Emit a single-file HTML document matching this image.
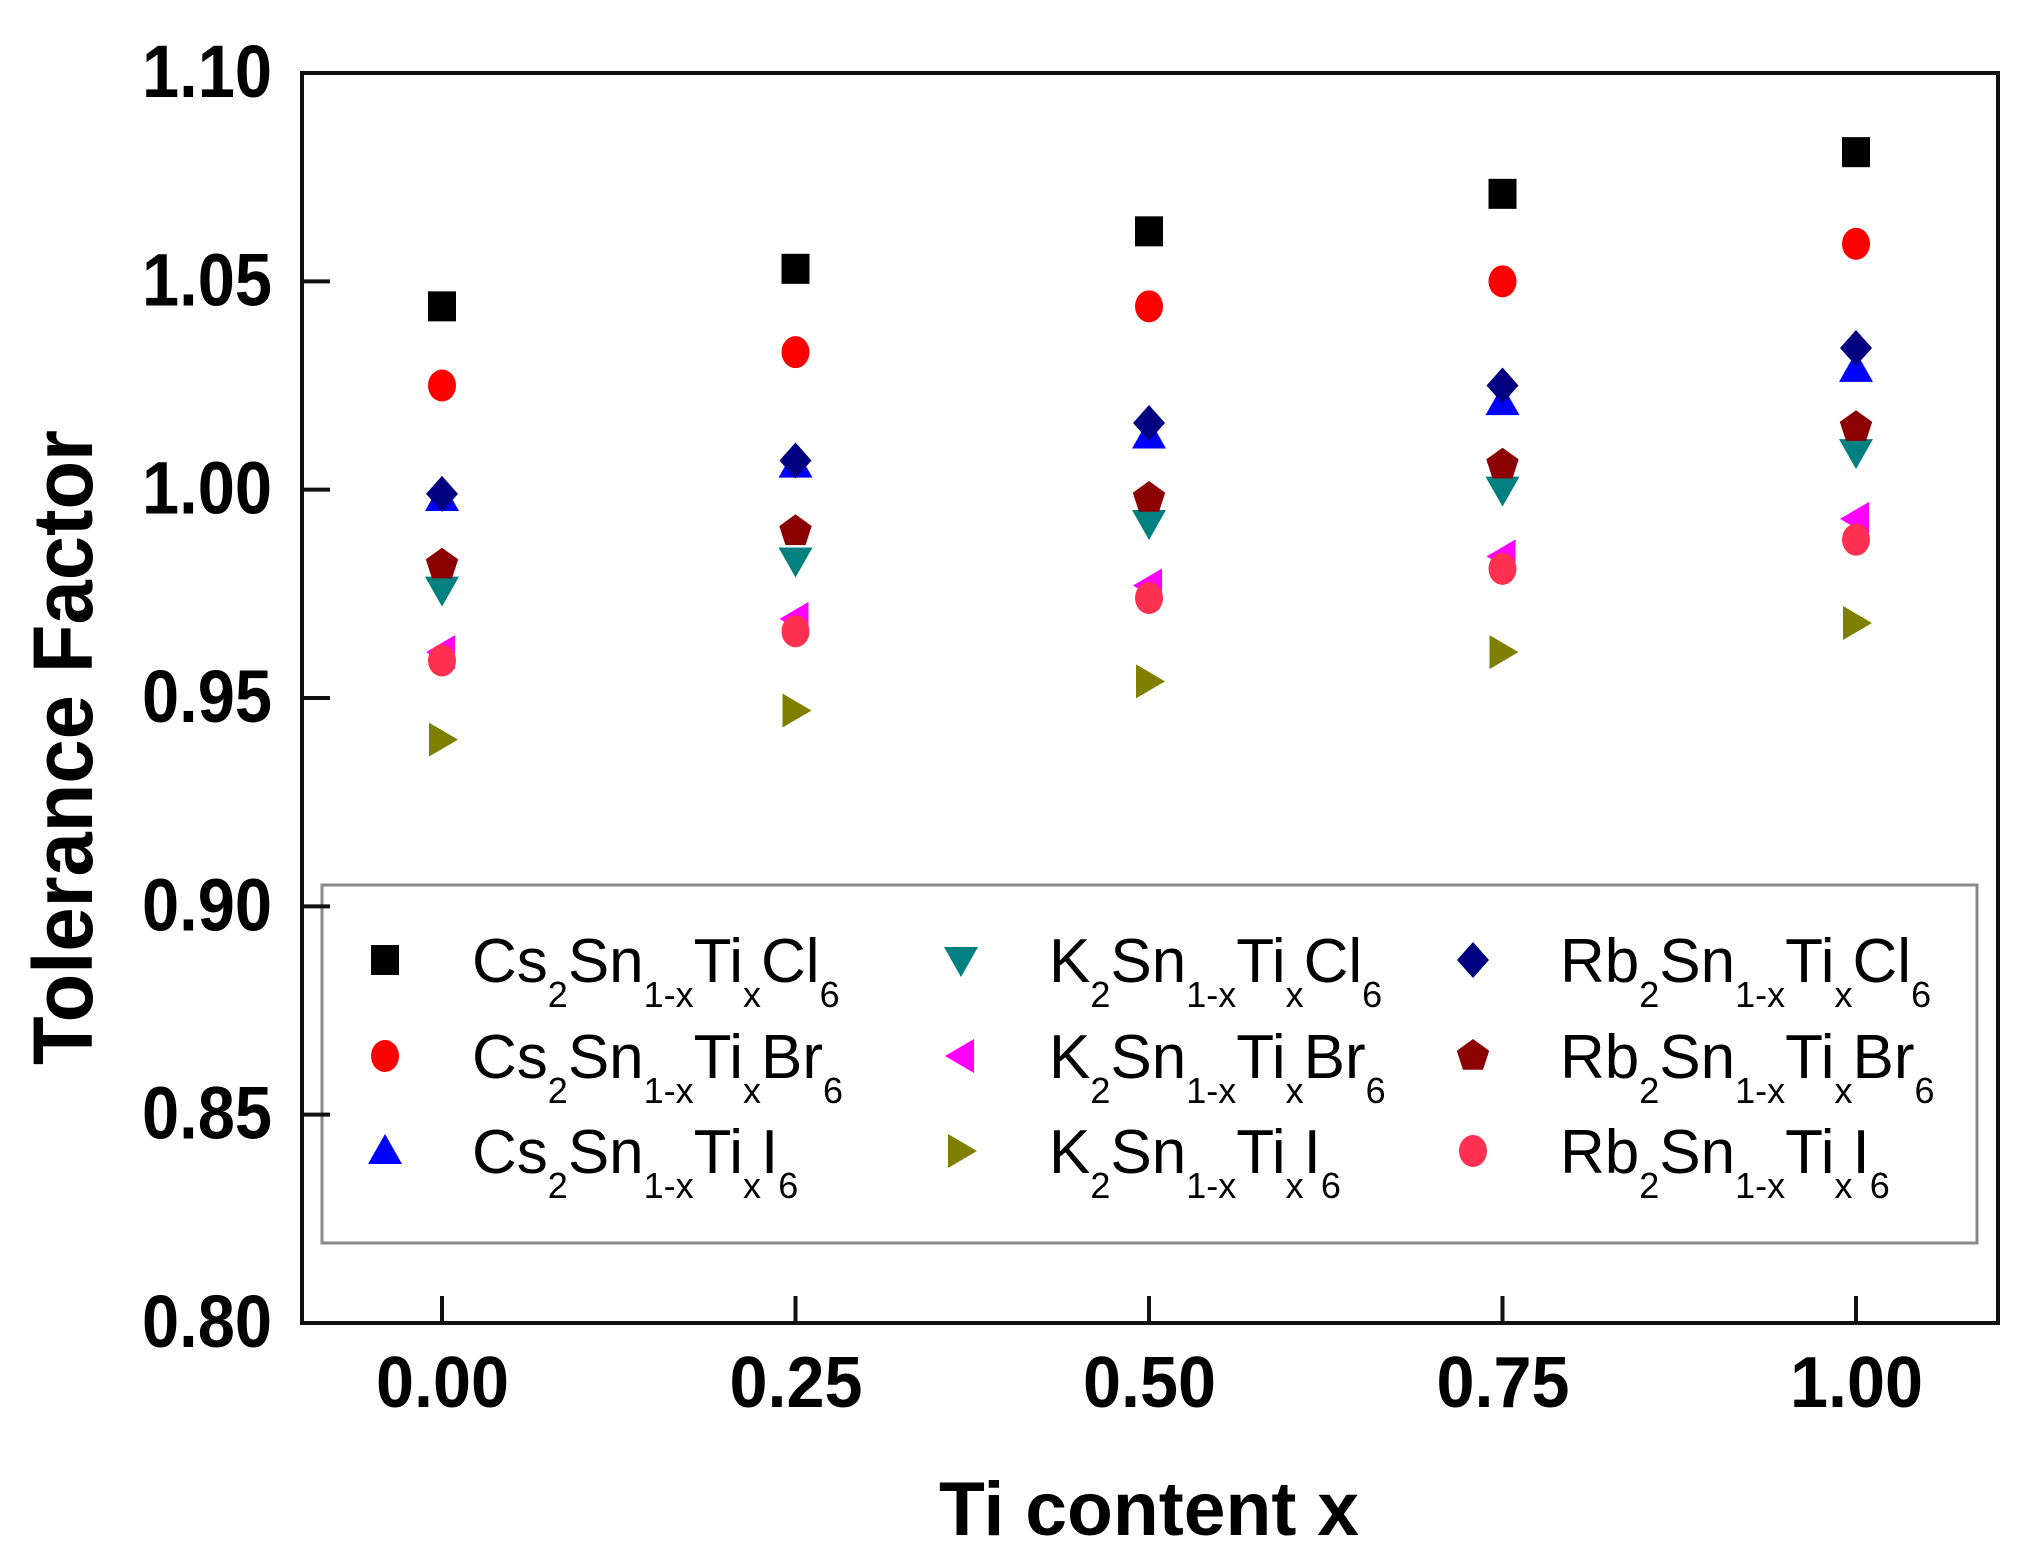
<!DOCTYPE html>
<html><head><meta charset="utf-8"><style>html,body{margin:0;padding:0;background:#fff}svg{display:block}</style></head>
<body>
<svg id="s" xmlns="http://www.w3.org/2000/svg" width="2030" height="1568" viewBox="0 0 2030 1568" font-family="Liberation Sans, Arial, sans-serif">
<rect width="2030" height="1568" fill="#fff"/>
<rect x="302" y="73" width="1696" height="1250" fill="none" stroke="#111" stroke-width="4"/>
<rect x="322" y="885" width="1655" height="358" fill="none" stroke="#888" stroke-width="3"/>
<g id="ticks" stroke="#111" stroke-width="4"></g>
<g id="ylab" font-weight="bold" font-size="74" text-anchor="end" fill="#000"></g>
<g id="xlab" font-weight="bold" font-size="72" fill="#000"></g>
<text x="0" y="0" font-weight="bold" font-size="84" transform="translate(92,1065) rotate(-90)" textLength="635" lengthAdjust="spacingAndGlyphs">Tolerance Factor</text>
<text x="939" y="1535" font-weight="bold" font-size="76" textLength="420" lengthAdjust="spacingAndGlyphs">Ti content x</text>
<g id="pts"></g>
<g id="leg" font-size="62" fill="#000"></g>
</svg>
<script>
const NS="http://www.w3.org/2000/svg";
function el(p,t,a,txt){const e=document.createElementNS(NS,t);for(const k in a)e.setAttribute(k,a[k]);if(txt!==undefined)e.textContent=txt;p.appendChild(e);return e;}
const Y=v=>73+(1.10-v)*4166.67, X=i=>442+i*353.5;
const tk=document.getElementById('ticks'),yl=document.getElementById('ylab'),xl=document.getElementById('xlab');
for(let k=0;k<=6;k++){const v=0.80+k*0.05,y=Y(v);
 el(tk,'line',{x1:302,x2:330,y1:y,y2:y});
 el(yl,'text',{x:272,y:y+24,textLength:130,lengthAdjust:'spacingAndGlyphs'},v.toFixed(2));}
for(let i=0;i<5;i++){const x=X(i);
 el(tk,'line',{x1:x,x2:x,y1:1323,y2:1296});
 el(xl,'text',{x:x-66,y:1407,textLength:133,lengthAdjust:'spacingAndGlyphs'},(i*0.25).toFixed(2));}
function mk(g,type,c,x,y){const s=15;
 switch(type){
 case 'sq':el(g,'rect',{x:x-14,y:y-15,width:28,height:30,fill:c});break;
 case 'ci':el(g,'ellipse',{cx:x,cy:y,rx:14,ry:16,fill:c});break;
 case 'up':el(g,'polygon',{points:`${x},${y-17} ${x+17},${y+13} ${x-17},${y+13}`,fill:c});break;
 case 'dn':el(g,'polygon',{points:`${x},${y+17} ${x+17},${y-13} ${x-17},${y-13}`,fill:c});break;
 case 'lt':el(g,'polygon',{points:`${x-16},${y} ${x+13},${y-17} ${x+13},${y+17}`,fill:c});break;
 case 'rt':el(g,'polygon',{points:`${x+16},${y} ${x-13},${y-17} ${x-13},${y+17}`,fill:c});break;
 case 'di':el(g,'polygon',{points:`${x},${y-18} ${x+16},${y} ${x},${y+18} ${x-16},${y}`,fill:c});break;
 case 'pe':{let p=[];for(let j=0;j<5;j++){const a=-Math.PI/2+j*2*Math.PI/5;p.push((x+17*Math.cos(a)).toFixed(1)+','+(y+17*Math.sin(a)).toFixed(1));}el(g,'polygon',{points:p.join(' '),fill:c});break;}
 }}
const S=[
 ['sq','#000',[1.044,1.053,1.062,1.071,1.081],'Cs','Cl'],
 ['ci','#ff0000',[1.025,1.033,1.044,1.050,1.059],'Cs','Br'],
 ['up','#0000ff',[0.998,1.006,1.013,1.021,1.029],'Cs','I'],
 ['dn','#008080',[0.976,0.983,0.992,1.000,1.009],'K','Cl'],
 ['lt','#ff00ff',[0.961,0.969,0.977,0.984,0.993],'K','Br'],
 ['rt','#808000',[0.940,0.947,0.954,0.961,0.968],'K','I'],
 ['di','#000080',[0.999,1.007,1.016,1.025,1.034],'Rb','Cl'],
 ['pe','#8b0000',[0.982,0.990,0.998,1.006,1.015],'Rb','Br'],
 ['ci','#ff3050',[0.959,0.966,0.974,0.981,0.988],'Rb','I']];
const pts=document.getElementById('pts'),leg=document.getElementById('leg');
const order=[2,0,1,3,4,5,6,7,8];
order.forEach(k=>{const s=S[k];s[2].forEach((v,i)=>mk(pts,s[0],s[1],X(i),Y(v)));});
const mx=[385,961,1473],tx=[472,1049,1560],base=[982,1078,1173];
S.forEach((s,k)=>{const c=Math.floor(k/3),r=k%3;
 mk(leg,s[0],s[1],mx[c],base[r]-22);
 const t=el(leg,'text',{x:tx[c],y:base[r]});
 const parts=[[s[3],0],['2',1],['Sn',0],['1-x',1],['Ti',0],['x',1],[s[4],0],['6',1]];
 let prev=0;
 parts.forEach(([str,sub])=>{const a={};a['font-size']=sub?36:62;a.dy=(sub-prev)*25;prev=sub;el(t,'tspan',a,str);});
});
</script>
</body></html>
